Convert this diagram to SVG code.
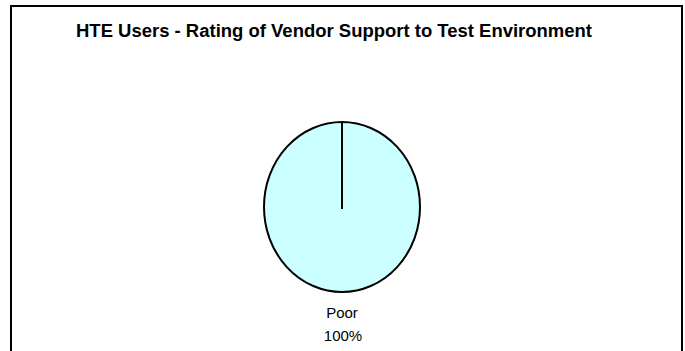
<svg xmlns="http://www.w3.org/2000/svg" width="685" height="351" viewBox="0 0 685 351">
<style>
.lbl{font-family:"Liberation Sans",Arial,sans-serif;font-size:15px;fill:#000;text-anchor:middle}
.title{font-family:"Liberation Sans",Arial,sans-serif;font-size:18px;font-weight:bold;fill:#000}
</style>
<rect x="0" y="0" width="685" height="351" fill="#fff"/>
<rect x="11" y="6" width="671" height="360" fill="none" stroke="#000" stroke-width="2"/>
<text class="title" x="76" y="37" textLength="516" lengthAdjust="spacingAndGlyphs">HTE Users - Rating of Vendor Support to Test Environment</text>
<g id="slice-poor">
<ellipse cx="342" cy="207" rx="78" ry="85" fill="#ccffff" stroke="#000" stroke-width="2"/>
<line x1="342" y1="122" x2="342" y2="209" stroke="#000" stroke-width="2"/>
</g>
<g id="label-poor">
<text class="lbl" x="342" y="318">Poor</text>
<text class="lbl" x="343" y="341">100%</text>
</g>
</svg>
